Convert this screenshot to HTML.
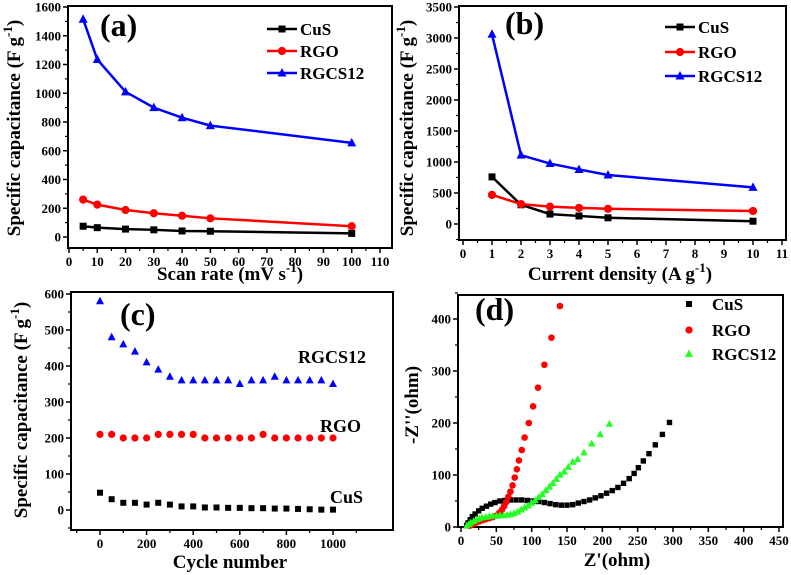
<!DOCTYPE html>
<html><head><meta charset="utf-8"><style>
html,body{margin:0;padding:0;background:#fff;}
svg{display:block;font-family:"Liberation Serif",serif;font-weight:bold;}
</style></head><body>
<svg id="fig" width="791" height="575" viewBox="0 0 791 575" xmlns="http://www.w3.org/2000/svg"></svg>
<script>
// Panel (a)
const aX=[5,10,20,30,40,50,100];
const aCuS=[75,65,55,50,42,40,25];
const aRGO=[260,225,188,165,148,130,75];
const aRGCS=[1515,1235,1010,900,830,775,655];
const aXTicks=[0,10,20,30,40,50,60,70,80,90,100,110];
const aYTicks=[0,200,400,600,800,1000,1200,1400,1600];
// Panel (b)
const bX=[1,2,3,4,5,10];
const bCuS=[760,310,160,130,100,45];
const bRGO=[470,320,280,260,245,210];
const bRGCS=[3060,1110,975,880,790,590];
const bXTicks=[0,1,2,3,4,5,6,7,8,9,10,11];
const bYTicks=[0,500,1000,1500,2000,2500,3000,3500];
// Panel (c)
const cX=[0,50,100,150,200,250,300,350,400,450,500,550,600,650,700,750,800,850,900,950,1000];
const cRGCS=[580,480,460,440,410,390,370,360,360,360,360,360,350,360,360,370,360,360,360,360,350];
const cRGO=[210,210,200,200,200,210,210,210,210,200,200,200,200,200,210,200,200,200,200,200,200];
const cCuS=[48,30,20,20,15,20,15,10,10,7,7,6,6,5,5,4,4,3,2,1,1];
const cXTicks=[0,200,400,600,800,1000];
const cYTicks=[0,100,200,300,400,500,600];
// Panel (d)
const dCuSX=[8,10,13,16,20,25,30,36,42,48,55,62,70,78,86,94,102,110,118,126,134,142,150,158,166,174,182,190,198,206,214,222,230,238,245,251,258,266,275,285,295];
const dCuSY=[3,8,14,20,25,31,36,40,44,47,50,51,52,52,52,51,50,49,47,45,43,42,42,43,46,49,52,56,60,65,70,76,84,93,103,114,127,141,158,178,201];
const dRGOX=[12,15,18,22,26,30,35,40,45,50,54,58,61,64,67,70,73,76,79,82,86,90,96,102,109,118,128,140];
const dRGOY=[2,4,6,9,11,13,15,17,19,22,27,33,40,48,58,68,80,95,111,128,148,172,200,232,268,312,364,425];
const dRGCSX=[8,11,14,18,22,26,30,35,40,45,50,55,60,65,70,75,80,85,90,95,100,105,110,115,120,125,130,135,140,146,152,158,165,174,185,197,210];
const dRGCSY=[2,5,8,11,14,16,18,19,20,21,21,22,22,23,24,26,29,33,37,41,46,51,57,63,70,77,84,92,100,106,115,125,130,143,160,178,198];
const dXTicks=[0,50,100,150,200,250,300,350,400,450];
const dYTicks=[0,100,200,300,400];

const NS="http://www.w3.org/2000/svg";
const svg=document.getElementById('fig');
function mk(tag,attrs,parent,txt){const e=document.createElementNS(NS,tag);for(const k in attrs)e.setAttribute(k,attrs[k]);if(txt!==undefined)e.textContent=txt;(parent||svg).appendChild(e);return e;}
function scale(d0,d1,p0,p1){return v=>p0+(v-d0)*(p1-p0)/(d1-d0);}

function axes(g,P,xs,ys,xTicks,yTicks,xMinor,yMinor){
  mk('rect',{x:P.l,y:P.t,width:P.r-P.l,height:P.b-P.t,fill:'none',stroke:'#000','stroke-width':2},g);
  xTicks.forEach(v=>{const x=xs(v);
    const t=mk('line',{x1:x,x2:x,y1:P.b,y2:P.b+5,stroke:'#000','stroke-width':1.5},g);
    
    const l=mk('text',{x:x,y:P.b+18,'font-size':13,'text-anchor':'middle'},g,String(v));
    });
  xMinor.forEach(v=>{const x=xs(v);mk('line',{x1:x,x2:x,y1:P.b,y2:P.b+3,stroke:'#000','stroke-width':1.2},g);});
  yTicks.forEach(v=>{const y=ys(v);
    const t=mk('line',{x1:P.l-5,x2:P.l,y1:y,y2:y,stroke:'#000','stroke-width':1.5},g);
    
    const l=mk('text',{x:P.l-7,y:y+4.5,'font-size':13,'text-anchor':'end'},g,String(v));
    });
  yMinor.forEach(v=>{const y=ys(v);mk('line',{x1:P.l-3,x2:P.l,y1:y,y2:y,stroke:'#000','stroke-width':1.2},g);});
}
function marker(g,type,x,y,c,s){
  let m;
  if(type==='sq') m=mk('rect',{x:x-s,y:y-s,width:2*s,height:2*s,fill:c},g);
  else if(type==='ci') m=mk('circle',{cx:x,cy:y,r:s+0.6,fill:c},g);
  else m=mk('polygon',{points:`${x},${y-s-1.5} ${x-s-1},${y+s} ${x+s+1},${y+s}`,fill:c},g);
  
}
function series(g,xs,ys,X,Y,c,type,line,s,name){
  const sg=mk('g',{},g);
  
  if(line){mk('polyline',{points:X.map((v,i)=>xs(v)+','+ys(Y[i])).join(' '),fill:'none',stroke:c,'stroke-width':2.5},sg);}
  X.forEach((v,i)=>marker(sg,type,xs(v),ys(Y[i]),c,s));
}
function ytitle(g,x,y,parts,name){
  const t=mk('text',{transform:`translate(${x},${y}) rotate(-90)`,'font-size':19,'text-anchor':'middle'},g);
  
  parts.forEach(p=>{mk('tspan',p.sup?{'font-size':13,dy:-8}:(p.down?{dy:8}:{}),t,p.t);});
}
function xtitle(g,x,y,parts,name){
  const t=mk('text',{x:x,y:y,'font-size':19,'text-anchor':'middle'},g);
  
  parts.forEach(p=>{mk('tspan',p.sup?{'font-size':13,dy:-8}:(p.down?{dy:8}:{}),t,p.t);});
}
function plabel(g,x,y,s,name){const t=mk('text',{x:x,y:y,'font-size':32},g,s);}
function legLine(g,x,y,c,type,label){
  const lg=mk('g',{},g);
  mk('line',{x1:x,x2:x+30,y1:y,y2:y,stroke:c,'stroke-width':2.5},lg);
  marker(lg,type,x+15,y,c,3.5);
  mk('text',{x:x+33,y:y+6,'font-size':17},lg,label);
}
function legMark(g,x,y,c,type,label){
  const lg=mk('g',{},g);
  marker(lg,type,x,y,c,3);
  mk('text',{x:x+23,y:y+6,'font-size':17},lg,label);
}

// ---- Panel a
{const g=mk('g',{});
 const P={l:68,r:392,t:6,b:248};
 const xs=scale(0,110,69,380), ys=scale(0,1600,237,7);
 axes(g,P,xs,ys,aXTicks,aYTicks,aXTicks.slice(0,-1).map(v=>v+5),aYTicks.slice(0,-1).map(v=>v+100));
 series(g,xs,ys,aX,aCuS,'#000','sq',true,3.5,'cus-series');
 series(g,xs,ys,aX,aRGO,'#f00','ci',true,3.5,'rgo-series');
 series(g,xs,ys,aX,aRGCS,'#00f','tr',true,3.5,'rgcs12-series');
 legLine(g,267,29,'#000','sq','CuS');legLine(g,267,51,'#f00','ci','RGO');legLine(g,267,73,'#00f','tr','RGCS12');
 plabel(g,100,36,'(a)','panel-label-a');
 ytitle(g,20,128,[{t:'Specific capacitance (F g'},{t:'-1',sup:1},{t:')',down:1}],'y-axis-title-a');
 xtitle(g,230,280,[{t:'Scan rate (mV s'},{t:'-1',sup:1},{t:')',down:1}],'x-axis-title-a');
}
// ---- Panel b
{const g=mk('g',{});
 const P={l:459,r:786,t:6,b:240};
 const xs=scale(0,11,463,782), ys=scale(0,3500,224,7);
 axes(g,P,xs,ys,bXTicks,bYTicks,bXTicks.slice(0,-1).map(v=>v+0.5),[-250].concat(bYTicks.slice(0,-1).map(v=>v+250)));
 series(g,xs,ys,bX,bCuS,'#000','sq',true,3.5,'cus-series');
 series(g,xs,ys,bX,bRGO,'#f00','ci',true,3.5,'rgo-series');
 series(g,xs,ys,bX,bRGCS,'#00f','tr',true,3.5,'rgcs12-series');
 legLine(g,665,27,'#000','sq','CuS');legLine(g,665,52,'#f00','ci','RGO');legLine(g,665,76,'#00f','tr','RGCS12');
 plabel(g,505,34,'(b)','panel-label-b');
 ytitle(g,413,128,[{t:'Specific capacitance (F g'},{t:'-1',sup:1},{t:')',down:1}],'y-axis-title-b');
 xtitle(g,620,280,[{t:'Current density (A g'},{t:'-1',sup:1},{t:')',down:1}],'x-axis-title-b');
}
// ---- Panel c
{const g=mk('g',{});
 const P={l:71,r:393,t:292,b:530};
 const xs=scale(0,1000,100,333), ys=scale(0,600,510,294);
 axes(g,P,xs,ys,cXTicks,cYTicks,[-100,100,300,500,700,900,1100],[-50].concat(cYTicks.slice(0,-1).map(v=>v+50)));
 series(g,xs,ys,cX,cCuS,'#000','sq',false,3,'cus-series');
 series(g,xs,ys,cX,cRGO,'#f00','ci',false,3,'rgo-series');
 series(g,xs,ys,cX,cRGCS,'#00f','tr',false,3,'rgcs12-series');
 [['RGCS12',298,363],['RGO',320,432],['CuS',330,503]].forEach(a=>{const t=mk('text',{x:a[1],y:a[2],'font-size':18},g,a[0]);});
 plabel(g,120,325,'(c)','panel-label-c');
 ytitle(g,27,410,[{t:'Specific capacitance (F g'},{t:'-1',sup:1},{t:')',down:1}],'y-axis-title-c');
 xtitle(g,230,568,[{t:'Cycle number'}],'x-axis-title-c');
}
// ---- Panel d
{const g=mk('g',{});
 const P={l:458,r:783,t:295,b:527};
 const xs=scale(0,450,461,779), ys=scale(0,400,527,319);
 axes(g,P,xs,ys,dXTicks,dYTicks,dXTicks.map(v=>v+25),dYTicks.map(v=>v+50));
 series(g,xs,ys,dCuSX,dCuSY,'#000','sq',false,2.7,'cus-series');
 series(g,xs,ys,dRGOX,dRGOY,'#f00','ci',false,2.7,'rgo-series');
 series(g,xs,ys,dRGCSX,dRGCSY,'#2f2','tr',false,2.7,'rgcs12-series');
 legMark(g,689,304,'#000','sq','CuS');legMark(g,689,330,'#f00','ci','RGO');legMark(g,689,354,'#2f2','tr','RGCS12');
 plabel(g,475,320,'(d)','panel-label-d');
 ytitle(g,418,405,[{t:"-Z''(ohm)"}],'y-axis-title-d');
 xtitle(g,617,566,[{t:"Z'(ohm)"}],'x-axis-title-d');
}
</script>
</body></html>
